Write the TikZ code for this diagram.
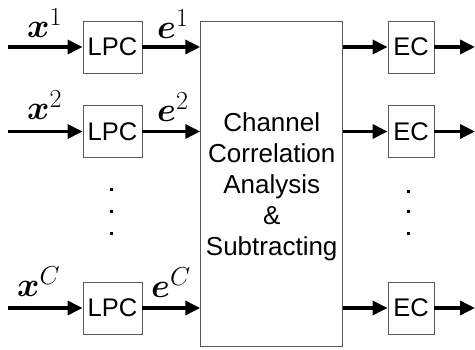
\RequirePackage{fix-cm}
\documentclass[tikz,border=0pt]{standalone}
\usepackage{amsmath}
\usepackage{fontspec}
\setmainfont{Liberation Sans}
\DeclareMathSizes{34}{34}{26}{20}
\usetikzlibrary{arrows.meta,calc}
\tikzset{
  blk/.style={draw=black!65, line width=0.9pt, inner sep=0pt, fill=white,
    font=\fontsize{25.5}{31}\selectfont},
  sig/.style={line width=3.5pt, -{Triangle[length=15pt,width=14pt]}},
  lbl/.style={inner sep=0pt, anchor=base west, font=\fontsize{34}{40}\selectfont},
  vdot/.style={fill=black, minimum size=3pt, inner sep=0pt}
}
\begin{document}
\begin{tikzpicture}[x=1pt,y=1pt]
\useasboundingbox (0,0) rectangle (475,-350);
% LPC boxes
\node[blk, minimum width=59pt, minimum height=52pt] (lpc1) at (112.5,-47) {LPC};
\node[blk, minimum width=59pt, minimum height=52pt] (lpc2) at (112.5,-131.5) {LPC};
\node[blk, minimum width=59pt, minimum height=52pt] (lpcC) at (112.5,-308) {LPC};
% main box
\node[blk, minimum width=142pt, minimum height=325pt] (main) at (271.7,-183.5) {};
\node[inner sep=0pt, align=center, font=\fontsize{26}{31}\selectfont] (maintext) at (271.7,-186.5)
  {Channel\\Correlation\\Analysis\\\&\\Subtracting};
% EC boxes
\node[blk, minimum width=46pt, minimum height=52pt] (ec1) at (411,-47) {EC};
\node[blk, minimum width=46pt, minimum height=52pt] (ec2) at (411,-131.5) {EC};
\node[blk, minimum width=46pt, minimum height=52pt] (ecC) at (411,-308) {EC};
% input coordinates
\coordinate (in1) at (8,-47);
\coordinate (in2) at (8,-131.5);
\coordinate (inC) at (8,-308);
\coordinate (out1) at (475,-47);
\coordinate (out2) at (475,-131.5);
\coordinate (outC) at (475,-308);
% arrows
\draw[sig] (in1) -- (lpc1.west);
\draw[sig] (in2) -- (lpc2.west);
\draw[sig] (inC) -- (lpcC.west);
\draw[sig] (lpc1.east) -- (main.west |- lpc1.east);
\draw[sig] (lpc2.east) -- (main.west |- lpc2.east);
\draw[sig] (lpcC.east) -- (main.west |- lpcC.east);
\draw[sig] (main.east |- ec1.west) -- (ec1.west);
\draw[sig] (main.east |- ec2.west) -- (ec2.west);
\draw[sig] (main.east |- ecC.west) -- (ecC.west);
\draw[sig] (ec1.east) -- (out1);
\draw[sig] (ec2.east) -- (out2);
\draw[sig] (ecC.east) -- (outC);
% labels
\node[lbl] (lx1) at (27,-37.5) {$\boldsymbol{x}^1$};
\node[lbl] (lx2) at (27,-120) {$\boldsymbol{x}^2$};
\node[lbl] (lxC) at (17,-297) {$\boldsymbol{x}^C$};
\node[lbl] (le1) at (157,-39) {$\boldsymbol{e}^1$};
\node[lbl] (le2) at (157,-122) {$\boldsymbol{e}^2$};
\node[lbl] (leC) at (151,-298) {$\boldsymbol{e}^C$};
% dots
\node[vdot] (d1) at (111,-190) {};
\node[vdot] (d2) at (111,-212) {};
\node[vdot] (d3) at (111,-234) {};
\node[vdot] (d4) at (408,-192) {};
\node[vdot] (d5) at (408,-212) {};
\node[vdot] (d6) at (408,-234) {};
\end{tikzpicture}
\end{document}
